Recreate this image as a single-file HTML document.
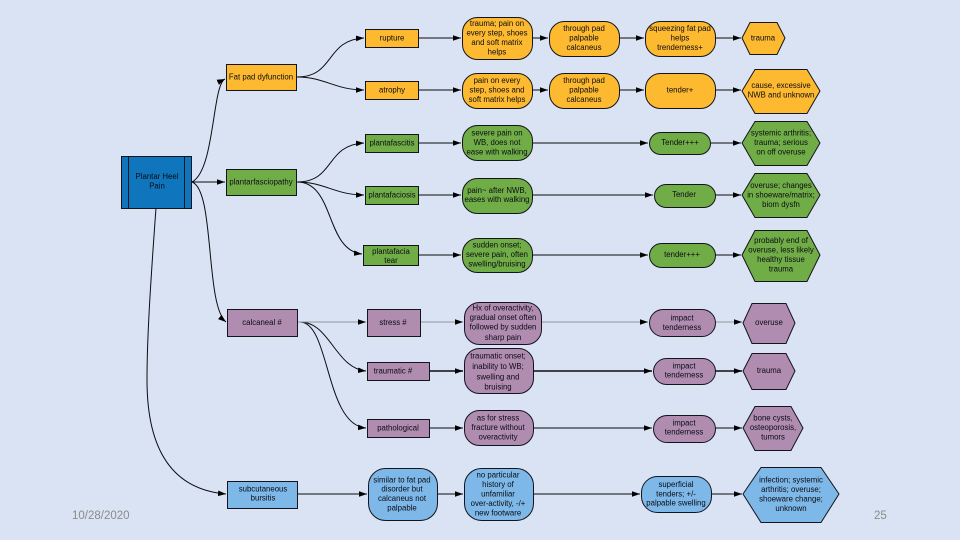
<!DOCTYPE html>
<html><head><meta charset="utf-8"><style>
html,body{margin:0;padding:0;width:960px;height:540px;overflow:hidden;background:#d9e3f3}
svg{display:block;position:absolute;left:0;top:0}
#d{filter:blur(0.35px)}
.t text{font:7.8px "Liberation Sans",sans-serif;fill:#0c0c14;text-anchor:middle}
.s rect,.s polygon,.s line{stroke:#14141c;stroke-width:1}
.l path{fill:none;stroke:#0c0c12;stroke-width:1}
.o rect,.o polygon{fill:#fdb92f}.g rect,.g polygon{fill:#70ad47}.p rect,.p polygon{fill:#b08cb0}.b rect,.b polygon{fill:#7db8e8}
.f{font:11.5px "Liberation Sans",sans-serif;fill:#8b8b8b}
</style></head><body>
<svg id="d" width="960" height="540" viewBox="0 0 960 540" xmlns="http://www.w3.org/2000/svg">
<defs><marker id="a" markerUnits="userSpaceOnUse" markerWidth="9" markerHeight="7" refX="8" refY="3.5" orient="auto"><path d="M0 .7L8 3.5L0 6.300z" fill="#000"/></marker></defs>
<g class="l">
<path marker-end="url(#a)" d="M192 182C215 170 212 85 225 79"/>
<path marker-end="url(#a)" d="M192 182H225"/>
<path marker-end="url(#a)" d="M192 182C215 190 205 305 226 322"/>
<path marker-end="url(#a)" d="M156 208C150 290 147 340 147 380C147 460 180 490 226 494"/>
<path marker-end="url(#a)" d="M297 77C335 77 325 40 364 38"/>
<path marker-end="url(#a)" d="M297 77C325 77 335 90 364 90"/>
<path marker-end="url(#a)" d="M297 182C335 182 325 145 364 143"/>
<path marker-end="url(#a)" d="M297 182C325 182 335 195 364 195"/>
<path marker-end="url(#a)" d="M297 182C335 182 325 250 362 254"/>
<path marker-end="url(#a)" d="M300 322C330 322 335 368 366 371"/>
<path marker-end="url(#a)" d="M300 322C330 322 325 425 366 428"/>
<path marker-end="url(#a)" d="M419 38H461"/><path marker-end="url(#a)" d="M532 38H548"/><path marker-end="url(#a)" d="M619 38H644"/><path marker-end="url(#a)" d="M715 38H741"/>
<path marker-end="url(#a)" d="M419 90H461"/><path marker-end="url(#a)" d="M532 90H548"/><path marker-end="url(#a)" d="M619 90H644"/><path marker-end="url(#a)" d="M715 90H741"/>
<path marker-end="url(#a)" d="M419 143H461"/><path marker-end="url(#a)" d="M532 143H648"/><path marker-end="url(#a)" d="M711 143H741"/>
<path marker-end="url(#a)" d="M419 195H461"/><path marker-end="url(#a)" d="M532 195H653"/><path marker-end="url(#a)" d="M715 195H741"/>
<path marker-end="url(#a)" d="M419 255H461"/><path marker-end="url(#a)" d="M532 255H648"/><path marker-end="url(#a)" d="M715 255H741"/>
<path marker-end="url(#a)" style="stroke:#8f949c" d="M298 322H366"/><path marker-end="url(#a)" style="stroke:#8f949c" d="M420 322H463"/><path marker-end="url(#a)" style="stroke:#8f949c" d="M541 322H648"/><path marker-end="url(#a)" style="stroke:#8f949c" d="M715 322H742"/>
<path marker-end="url(#a)" style="stroke-width:1.4" d="M429 371H463"/><path marker-end="url(#a)" style="stroke-width:1.4" d="M533 371H652"/><path marker-end="url(#a)" style="stroke-width:1.4" d="M715 371H742"/>
<path marker-end="url(#a)" d="M429 428H463"/><path marker-end="url(#a)" d="M533 428H652"/><path marker-end="url(#a)" d="M715 428H742"/>
<path marker-end="url(#a)" d="M298 494H367"/><path marker-end="url(#a)" d="M437 494H463"/><path marker-end="url(#a)" d="M533 494H640"/><path marker-end="url(#a)" d="M711 494H742"/>
</g>
<g class="s">
<rect x="121.500" y="156.500" width="70" height="52" fill="#0f75bc"/><line x1="128.500" y1="156.500" x2="128.500" y2="208.500"/><line x1="184.500" y1="156.500" x2="184.500" y2="208.500"/>
<g class="o">
<rect x="226.500" y="64.500" width="70" height="26"/>
<rect x="365.500" y="29.500" width="53" height="18"/><rect x="365.500" y="81.500" width="53" height="18"/>
<rect x="462.500" y="17.500" width="70" height="42" rx="15"/><rect x="462.500" y="73.500" width="70" height="35" rx="15"/>
<rect x="549.500" y="21.500" width="70" height="35" rx="15"/><rect x="549.500" y="73.500" width="70" height="35" rx="15"/>
<rect x="645.500" y="21.500" width="70" height="35" rx="15"/><rect x="645.500" y="73.500" width="70" height="35" rx="15"/>
<polygon points="742,38 750,22.500 777,22.500 785,38 777,54.500 750,54.500"/>
<polygon points="742,91 755,69.500 807,69.500 820,91 807,113.500 755,113.500"/>
</g>
<g class="g">
<rect x="226.500" y="169.500" width="70" height="26"/>
<rect x="365.500" y="134.500" width="53" height="18"/><rect x="365.500" y="186.500" width="53" height="18"/><rect x="363.500" y="245.500" width="55" height="20"/>
<rect x="462.500" y="125.500" width="70" height="35" rx="15"/><rect x="462.500" y="178.500" width="70" height="35" rx="15"/><rect x="462.500" y="238.500" width="70" height="34" rx="15"/>
<rect x="649.500" y="132.500" width="61" height="22" rx="11"/><rect x="654.500" y="184.500" width="61" height="23" rx="11.500"/><rect x="649.500" y="243.500" width="66" height="24" rx="12"/>
<polygon points="742,143 755,121.500 807,121.500 820,143 807,165.500 755,165.500"/>
<polygon points="742,195 755,173.500 807,173.500 820,195 807,217.500 755,217.500"/>
<polygon points="742,255 755,230.500 807,230.500 820,255 807,281.500 755,281.500"/>
</g>
<g class="p">
<rect x="227.500" y="309.500" width="70" height="27"/>
<rect x="367.500" y="309.500" width="53" height="27"/><rect x="367.500" y="362.500" width="62" height="18"/><rect x="367.500" y="419.500" width="62" height="18"/>
<rect x="464.500" y="302.500" width="77" height="42" rx="15"/><rect x="464.500" y="348.500" width="69" height="45" rx="15"/><rect x="464.500" y="410.500" width="69" height="35" rx="15"/>
<rect x="649.500" y="309.500" width="66" height="27" rx="13.500"/><rect x="653.500" y="358.500" width="62" height="26" rx="13"/><rect x="653.500" y="415.500" width="62" height="27" rx="13.500"/>
<polygon points="743,323 752,303.500 786,303.500 795,323 786,343.500 752,343.500"/>
<polygon points="743,371 752,353.500 786,353.500 795,371 786,389.500 752,389.500"/>
<polygon points="743,428 755,406.500 791,406.500 803,428 791,450.500 755,450.500"/>
</g>
<g class="b">
<rect x="227.500" y="481.500" width="70" height="27"/>
<rect x="368.500" y="468.500" width="69" height="52" rx="17"/><rect x="464.500" y="468.500" width="69" height="52" rx="17"/>
<rect x="641.500" y="476.500" width="70" height="36" rx="16"/>
<polygon points="743,494 761,467.500 821,467.500 839,494 821,522.500 761,522.500"/>
</g>
</g>
<g class="t">
<text x="157" y="179"><tspan x="157">Plantar Heel</tspan><tspan x="157" dy="9.500">Pain</tspan></text>
<text x="261" y="79.500">Fat pad dyfunction</text>
<text x="392" y="40.500">rupture</text><text x="392" y="92.500">atrophy</text>
<text x="497"><tspan x="497" y="26">trauma; pain on</tspan><tspan x="497" y="35.500">every step, shoes</tspan><tspan x="497" y="45">and soft matrix</tspan><tspan x="497" y="54.500">helps</tspan></text>
<text x="497"><tspan x="497" y="83">pain on every</tspan><tspan x="497" y="92.500">step, shoes and</tspan><tspan x="497" y="102">soft matrix helps</tspan></text>
<text x="584"><tspan x="584" y="31">through pad</tspan><tspan x="584" y="40.500">palpable</tspan><tspan x="584" y="50">calcaneus</tspan></text>
<text x="584"><tspan x="584" y="83">through pad</tspan><tspan x="584" y="92.500">palpable</tspan><tspan x="584" y="102">calcaneus</tspan></text>
<text x="680"><tspan x="680" y="31">squeezing fat pad</tspan><tspan x="680" y="40.500">helps</tspan><tspan x="680" y="50">trenderness+</tspan></text>
<text x="680" y="92.500">tender+</text>
<text x="763" y="40.500">trauma</text>
<text x="781"><tspan x="781" y="88">cause, excessive</tspan><tspan x="781" y="97.500">NWB and unknown</tspan></text>
<text x="261" y="184.500">plantarfasciopathy</text>
<text x="392" y="145.500">plantafascitis</text><text x="392" y="197.500">plantafaciosis</text>
<text x="391"><tspan x="391" y="254">plantafacia</tspan><tspan x="391" y="263">tear</tspan></text>
<text x="497"><tspan x="497" y="135.500">severe pain on</tspan><tspan x="497" y="145">WB, does not</tspan><tspan x="497" y="154.500">ease with walking</tspan></text>
<text x="497"><tspan x="497" y="193">pain~ after NWB,</tspan><tspan x="497" y="202">eases with walking</tspan></text>
<text x="497"><tspan x="497" y="247.500">sudden onset;</tspan><tspan x="497" y="257">severe pain, often</tspan><tspan x="497" y="266.500">swelling/bruising</tspan></text>
<text x="680" y="145">Tender+++</text><text x="684" y="197">Tender</text><text x="682" y="257">tender+++</text>
<text x="781"><tspan x="781" y="135.500">systemic arthritis;</tspan><tspan x="781" y="145">trauma; serious</tspan><tspan x="781" y="154.500">on off overuse</tspan></text>
<text x="781"><tspan x="781" y="188">overuse; changes</tspan><tspan x="781" y="197.500">in shoeware/matrix;</tspan><tspan x="781" y="207">biom dysfn</tspan></text>
<text x="781"><tspan x="781" y="243">probably end of</tspan><tspan x="781" y="252.500">overuse, less likely</tspan><tspan x="781" y="262">healthy tissue</tspan><tspan x="781" y="271.500">trauma</tspan></text>
<text x="262" y="325">calcaneal  #</text><text x="393" y="325">stress #</text><text x="393" y="373.500">traumatic #</text><text x="398" y="430.500">pathological</text>
<text x="503"><tspan x="503" y="310.500">Hx of overactivity,</tspan><tspan x="503" y="320">gradual onset often</tspan><tspan x="503" y="329.500">followed by sudden</tspan><tspan x="503" y="340">sharp pain</tspan></text>
<text x="498"><tspan x="498" y="358.500">traumatic onset;</tspan><tspan x="498" y="369">inability to WB;</tspan><tspan x="498" y="379.500">swelling and</tspan><tspan x="498" y="389.500">bruising</tspan></text>
<text x="498"><tspan x="498" y="420.500">as for stress</tspan><tspan x="498" y="430">fracture without</tspan><tspan x="498" y="439.500">overactivity</tspan></text>
<text x="682"><tspan x="682" y="320.500">impact</tspan><tspan x="682" y="330">tenderness</tspan></text>
<text x="684"><tspan x="684" y="368.500">impact</tspan><tspan x="684" y="377.500">tenderness</tspan></text>
<text x="684"><tspan x="684" y="425.500">impact</tspan><tspan x="684" y="434.500">tenderness</tspan></text>
<text x="769" y="325">overuse</text><text x="769" y="373">trauma</text>
<text x="773"><tspan x="773" y="420.500">bone cysts,</tspan><tspan x="773" y="430">osteoporosis,</tspan><tspan x="773" y="439.500">tumors</tspan></text>
<text x="263"><tspan x="263" y="491.500">subcutaneous</tspan><tspan x="263" y="500.500">bursitis</tspan></text>
<text x="402"><tspan x="402" y="482.500">similar to fat pad</tspan><tspan x="402" y="491.500">disorder but</tspan><tspan x="402" y="501">calcaneus not</tspan><tspan x="402" y="510.500">palpable</tspan></text>
<text x="498"><tspan x="498" y="477.500">no particular</tspan><tspan x="498" y="487">history of</tspan><tspan x="498" y="496.500">unfamiliar</tspan><tspan x="498" y="506">over-activity, -/+</tspan><tspan x="498" y="515.500">new footware</tspan></text>
<text x="676"><tspan x="676" y="487">superficial</tspan><tspan x="676" y="496.500">tenders; +/-</tspan><tspan x="676" y="505.500">palpable swelling</tspan></text>
<text x="791"><tspan x="791" y="482.500">infection; systemic</tspan><tspan x="791" y="492">arthritis; overuse;</tspan><tspan x="791" y="501.500">shoeware change;</tspan><tspan x="791" y="511">unknown</tspan></text>
</g>
</svg>
<svg width="960" height="540" viewBox="0 0 960 540" xmlns="http://www.w3.org/2000/svg">
<text class="f" x="72" y="519">10/28/2020</text>
<text class="f" x="874" y="519">25</text>
</svg>
</body></html>
